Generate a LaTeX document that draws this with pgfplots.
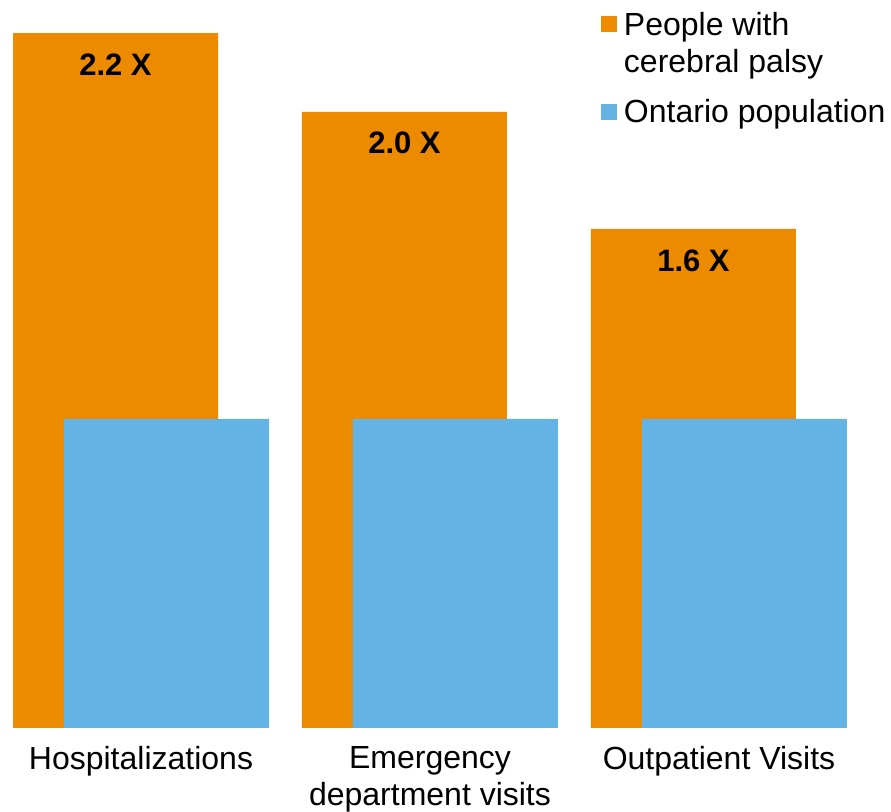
\documentclass[border=0pt]{standalone}
\usepackage{fontspec}
\setmainfont{Liberation Sans}
\usepackage{pgfplots}
\pgfplotsset{compat=1.18}
\definecolor{cporange}{RGB}{236,139,0}
\definecolor{onblue}{RGB}{99,180,228}
\begin{document}
\begin{tikzpicture}
\begin{axis}[
  scale only axis, width=445.5pt, height=406pt,
  xmin=-0.4879, xmax=2.5952, ymin=-0.2718, ymax=2.356,
  hide axis, clip=false,
  ybar, bar width=102.5pt,
  legend style={at={(axis cs:1.5917,2.317)}, anchor=north west, draw=none, fill=none,
    inner sep=0pt, outer sep=0pt, row sep=12pt,
    font=\fontsize{16}{18.5}\selectfont,
    nodes={inner sep=0pt},
    cells={anchor=base west, align=left},
    /tikz/every odd column/.append style={column sep=3.5pt}},
  legend image code/.code={\fill[#1] (0pt,1.25pt) rectangle (8pt,9.25pt);},
]
\addplot[fill=cporange, draw=none, bar shift=-12.75pt,
  legend image code/.code={\fill[##1] (0pt,20pt) rectangle (8pt,28pt);},
  point meta=explicit symbolic,
  nodes near coords,
  every node near coord/.append style={anchor=north, yshift=-10pt, inner sep=0pt, text=black,
    font=\bfseries\fontsize{15.5}{18}\selectfont}]
  coordinates {(0,2.249) [2.2 X] (1,1.994) [2.0 X] (2,1.615) [1.6 X]};
\addlegendentry{People with\\cerebral palsy}
\addplot[fill=onblue, draw=none, bar shift=12.75pt]
  coordinates {(0,1) (1,1) (2,1)};
\addlegendentry{Ontario population}
\node[anchor=north, inner sep=0pt, align=center, yshift=-9pt, font=\fontsize{16}{18.5}\selectfont] at (axis cs:0,0) {Hospitalizations};
\node[anchor=north, inner sep=0pt, align=center, yshift=-9pt, font=\fontsize{16}{18.5}\selectfont] at (axis cs:1,0) {Emergency\\department visits};
\node[anchor=north, inner sep=0pt, align=center, yshift=-9pt, font=\fontsize{16}{18.5}\selectfont] at (axis cs:2,0) {Outpatient Visits};
\end{axis}
\pgfresetboundingbox
\path (current axis.south west) rectangle (current axis.north east);
\end{tikzpicture}
\end{document}
